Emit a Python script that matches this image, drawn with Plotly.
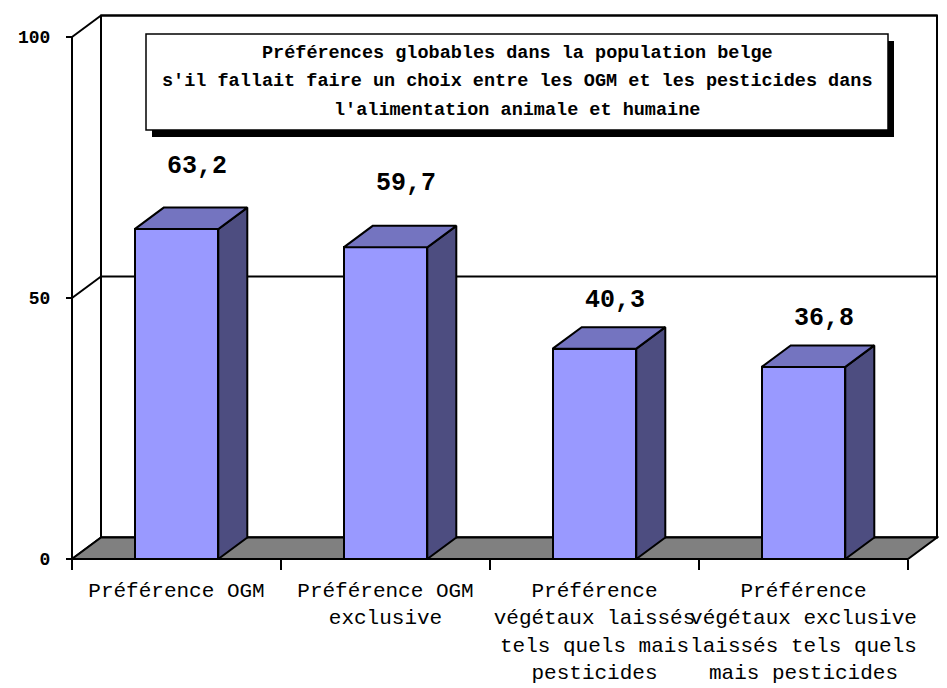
import plotly.graph_objects as go

# ---- data ----
categories = [
    "Préférence OGM",
    "Préférence OGM<br>exclusive",
    "Préférence<br>végétaux laissés<br>tels quels mais<br>pesticides",
    "Préférence<br>végétaux exclusive<br>laissés tels quels<br>mais pesticides",
]
values = [63.2, 59.7, 40.3, 36.8]
value_labels = ["63,2", "59,7", "40,3", "36,8"]
y_ticks = [0, 50, 100]
title_lines = [
    "Préférences globables dans la population belge",
    "s'il fallait faire un choix entre les OGM et les pesticides dans",
    "l'alimentation animale et humaine",
]

# ---- geometry (pixels, measured on the 947x688 target; page body has an 8px margin) ----
OFF = 8
W, H = 947 - OFF, 688 - OFF
L, R, T, B = 54, 2, 2, 114
PW, PH = W - L - R, H - T - B
X0PX, CATW = 72 - OFF, 209.0       # front-left of category axis, px per category
Y0PX, PXU = 559 - OFF, 5.22        # y=0 pixel, px per unit
DXPX, DYPX = 29, 21.5              # depth offset
DX, DY = DXPX / CATW, DYPX / PXU
BARW = 0.4

n = len(values)
xs = list(range(n))
xr = [-0.5 - (X0PX - L) / CATW, -0.5 + (L + PW - X0PX) / CATW]
yr = [-(T + PH - Y0PX) / PXU, (Y0PX - T) / PXU]
XL, XRt = -0.5, n - 0.5
YMAX = max(y_ticks)

def px2paper(px, py):
    return (px - OFF - L) / PW, (T + PH - (py - OFF)) / PH

FRONT, TOP, SIDE = "#9999FF", "#7474C0", "#4D4D80"
FONT = "Liberation Mono"
LW = 2

fig = go.Figure()

# front faces
fig.add_trace(go.Bar(x=xs, y=values, width=BARW, marker=dict(color=FRONT, line=dict(color="black", width=LW)),
                     hoverinfo="skip", showlegend=False))

# side and top faces
for x, v in zip(xs, values):
    xr_ = x + BARW / 2
    xl_ = x - BARW / 2
    fig.add_trace(go.Scatter(x=[xr_, xr_ + DX, xr_ + DX, xr_, xr_], y=[0, DY, v + DY, v, 0],
                             mode="lines", fill="toself", fillcolor=SIDE,
                             line=dict(color="black", width=LW), hoverinfo="skip", showlegend=False))
    fig.add_trace(go.Scatter(x=[xl_, xr_, xr_ + DX, xl_ + DX, xl_], y=[v, v, v + DY, v + DY, v],
                             mode="lines", fill="toself", fillcolor=TOP,
                             line=dict(color="black", width=LW), hoverinfo="skip", showlegend=False))

shapes = []
# back wall
shapes.append(dict(type="rect", xref="x", yref="y", x0=XL + DX, x1=XRt + DX, y0=DY, y1=YMAX + DY,
                   fillcolor="white", line=dict(color="black", width=LW), layer="below"))
# gridlines on back wall + diagonals on left wall
for t in y_ticks:
    shapes.append(dict(type="line", xref="x", yref="y", x0=XL + DX, x1=XRt + DX, y0=t + DY, y1=t + DY,
                       line=dict(color="black", width=LW), layer="below"))
    shapes.append(dict(type="line", xref="x", yref="y", x0=XL, x1=XL + DX, y0=t, y1=t + DY,
                       line=dict(color="black", width=LW), layer="below"))
# floor
shapes.append(dict(type="path", xref="x", yref="y",
                   path=f"M {XL},0 L {XRt},0 L {XRt + DX},{DY} L {XL + DX},{DY} Z",
                   fillcolor="#808080", line=dict(color="black", width=LW), layer="below"))
# front value axis line
shapes.append(dict(type="line", xref="x", yref="y", x0=XL, x1=XL, y0=0, y1=YMAX,
                   line=dict(color="black", width=LW), layer="below"))

# title box with shadow (reference pixel coordinates)
bx0, by0, bx1, by1 = 146, 34, 888, 130
sx, sy = 6, 7
p0 = px2paper(bx0 + sx, by0 + sy); p1 = px2paper(bx1 + sx, by1 + sy)
shapes.append(dict(type="rect", xref="paper", yref="paper", x0=p0[0], y0=p1[1], x1=p1[0], y1=p0[1],
                   fillcolor="black", line=dict(width=0), layer="above"))
p0 = px2paper(bx0, by0); p1 = px2paper(bx1, by1)
shapes.append(dict(type="rect", xref="paper", yref="paper", x0=p0[0], y0=p1[1], x1=p1[0], y1=p0[1],
                   fillcolor="white", line=dict(color="black", width=1.5), layer="above"))

annotations = []
for line, py in zip(title_lines, [53, 82, 110]):
    ax, ay = px2paper((bx0 + bx1) / 2, py)
    annotations.append(dict(x=ax, y=ay, xref="paper", yref="paper", text=f"<b>{line}</b>", showarrow=False,
                            xanchor="center", yanchor="middle", font=dict(family=FONT, size=18.5, color="black")))

label_lift = [41, 42, 27, 27]
for x, v, lab, lift in zip(xs, values, value_labels, label_lift):
    annotations.append(dict(x=x + DX / 2, y=v + DY, xref="x", yref="y", text=f"<b>{lab}</b>", showarrow=False,
                            xanchor="center", yanchor="middle", xshift=6, yshift=lift,
                            font=dict(family=FONT, size=25, color="black")))

fig.update_layout(
    width=W, height=H, autosize=False,
    margin=dict(l=L, r=R, t=T, b=B, pad=0),
    paper_bgcolor="white", plot_bgcolor="rgba(0,0,0,0)",
    shapes=shapes, annotations=annotations, showlegend=False, bargap=0,
    xaxis=dict(range=xr, tickmode="array", tickvals=xs, ticktext=categories, ticks="",
               showgrid=False, zeroline=False, showline=False, anchor="free", automargin=False,
               position=px2paper(0, Y0PX + OFF)[1], tickangle=0,
               tickfont=dict(family=FONT, size=21, color="black"), ticklabelstandoff=16,
               minor=dict(tickvals=[x - 0.5 for x in xs] + [xs[-1] + 0.5], ticks="outside", ticklen=10,
                          tickwidth=LW, tickcolor="black", showgrid=False)),
    yaxis=dict(range=yr, tickmode="array", tickvals=y_ticks, ticktext=[str(t) for t in y_ticks],
               ticks="outside", ticklen=6, tickwidth=LW, tickcolor="black",
               showgrid=False, zeroline=False, showline=False, anchor="free", automargin=False,
               position=px2paper(X0PX + OFF, 0)[0],
               tickfont=dict(family=FONT, size=18, color="black", weight="bold"), ticklabelstandoff=12),
)

fig.write_html("out.html")
